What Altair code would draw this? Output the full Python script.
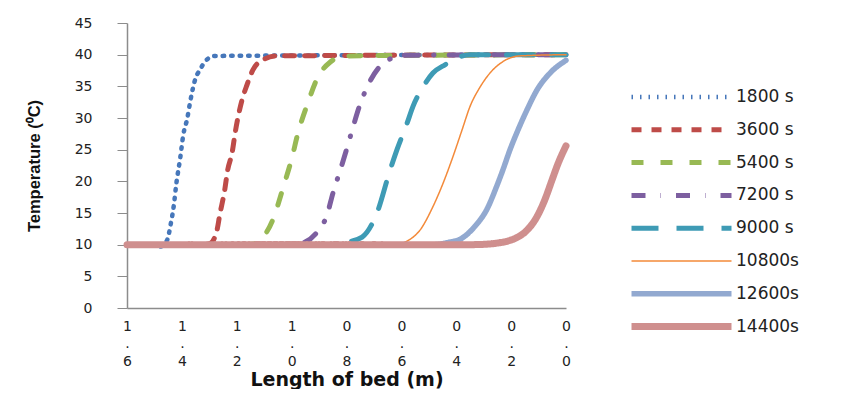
import altair as alt
import pandas as pd

# ---- data ----
series_names = ["1800 s", "3600 s", "5400 s", "7200 s", "9000 s", "10800s", "12600s", "14400s"]

L_1800 = [0.0, 1.28, 1.316, 1.334, 1.35, 1.37, 1.38, 1.395, 1.406, 1.42, 1.43, 1.44, 1.454, 1.48, 1.5, 1.6]
T_1800 = [40, 39.8, 38.9, 37.6, 36.3, 32.5, 30.0, 27.3, 23.7, 19.7, 16.0, 13.4, 10.7, 9.7, 10, 10]

L_3600 = [0.0, 1.053, 1.104, 1.141, 1.163, 1.181, 1.195, 1.206, 1.217, 1.233, 1.244, 1.262, 1.272, 1.297, 1.33, 1.6]
T_3600 = [40, 39.8, 39.2, 37.6, 35.2, 32.8, 30.2, 27.6, 24.5, 21.8, 18.6, 14.7, 12.3, 10.2, 10, 10]

L_5400 = [0.0, 0.805, 0.86, 0.904, 0.944, 0.977, 0.999, 1.031, 1.068, 1.115, 1.141, 1.18, 1.6]
T_5400 = [40, 39.8, 38.8, 36.5, 32.0, 27.6, 23.7, 19.0, 14.0, 10.7, 10.1, 10, 10]

L_7200 = [0.0, 0.60, 0.630, 0.660, 0.718, 0.751, 0.776, 0.798, 0.824, 0.849, 0.871, 0.907, 0.951, 0.99, 1.6]
T_7200 = [40, 39.9, 39.5, 38.9, 35.5, 32.1, 28.6, 25.3, 21.6, 18.2, 14.7, 12.0, 10.4, 10, 10]

L_9000 = [0.0, 0.35, 0.441, 0.485, 0.521, 0.558, 0.579, 0.616, 0.641, 0.689, 0.743, 0.798, 0.84, 1.6]
T_9000 = [40, 40, 38.4, 37.1, 34.9, 31.8, 29.2, 25.0, 21.8, 15.0, 11.2, 10.4, 10, 10]

L_10800 = [0.0, 0.168, 0.23, 0.277, 0.313, 0.35, 0.379, 0.412, 0.448, 0.485, 0.532, 0.57, 0.60, 0.64, 1.6]
T_10800 = [40, 39.8, 38.9, 37.1, 34.9, 31.8, 28.1, 23.9, 19.7, 16.0, 12.3, 10.8, 10.2, 10, 10]

L_12600 = [0.0, 0.058, 0.106, 0.142, 0.175, 0.204, 0.23, 0.251, 0.288, 0.332, 0.38, 0.434, 0.48, 1.6]
T_12600 = [39.1, 37.1, 34.4, 31.3, 28.1, 25.0, 21.8, 19.4, 15.6, 12.9, 11.0, 10.3, 10, 10]

L_14400 = [0.0, 0.029, 0.051, 0.077, 0.106, 0.149, 0.18, 0.21, 0.25, 0.30, 0.35, 1.6]
T_14400 = [25.6, 22.8, 20.2, 17.1, 14.4, 12.0, 11.1, 10.6, 10.25, 10.05, 10, 10]

y_ticks = [0, 5, 10, 15, 20, 25, 30, 35, 40, 45]
x_ticks = [0.0, 0.2, 0.4, 0.6, 0.8, 1.0, 1.2, 1.4, 1.6]

# ---- styles ----
colors = ["#4677BA", "#BE4B48", "#98B954", "#7D5FA0", "#3E9BB5", "#F38A3A", "#92A9D0", "#CF8F8E"]
dashes = [[1.5, 7], [10, 10], [12, 17], [14, 15, 0.5, 15], [27, 18], [1, 0], [1, 0], [1, 0]]
widths = [4.5, 5, 5, 5, 5, 1.5, 5.5, 7]

series_L = [L_1800, L_3600, L_5400, L_7200, L_9000, L_10800, L_12600, L_14400]
series_T = [T_1800, T_3600, T_5400, T_7200, T_9000, T_10800, T_12600, T_14400]

rows = []
for name, Ls, Ts in zip(series_names, series_L, series_T):
    for l, t in zip(Ls, Ts):
        rows.append({"series": name, "L": l, "T": t})
df = pd.DataFrame(rows)

legend = alt.Legend(
    title=None,
    orient="none",
    legendX=501,
    legendY=64,
    padding=0,
    clipHeight=20,
    rowPadding=12.8,
    symbolType="stroke",
    symbolSize=10000,
    symbolOffset=0,
    labelOffset=1,
    labelFont="DejaVu Sans",
    labelFontSize=17,
    labelColor="#222222",
)

chart = alt.Chart(df).mark_line(
    interpolate="monotone", strokeCap="round", strokeJoin="round"
).encode(
    x=alt.X(
        "L:Q",
        scale=alt.Scale(domain=[0, 1.6], reverse=True, nice=False, zero=False),
        axis=alt.Axis(
            values=x_ticks,
            format=".1f",
            labelExpr="split(datum.label, '')",
            labelLineHeight=17.5,
            labelFont="DejaVu Sans",
            labelFontSize=14,
            labelColor="#222222",
            labelPadding=11,
            labelOverlap=False,
            labelFlush=False,
            ticks=False,
            tickSize=0,
            grid=False,
            domainColor="#8C8C8C",
            domainWidth=1.5,
            title="Length of bed (m)",
            titleFont="DejaVu Sans",
            titleFontSize=19,
            titleFontWeight="bold",
            titleColor="#111111",
            titleY=77,
            titleBaseline="alphabetic",
        ),
    ),
    y=alt.Y(
        "T:Q",
        scale=alt.Scale(domain=[0, 45], nice=False),
        axis=alt.Axis(
            values=y_ticks,
            labelFont="DejaVu Sans",
            labelFontSize=14,
            labelColor="#222222",
            labelPadding=25,
            tickSize=10,
            tickColor="#8C8C8C",
            tickWidth=1,
            grid=False,
            domainColor="#8C8C8C",
            domainWidth=1.5,
            title="Temperature (⁰C)",
            titleFont="Liberation Sans Narrow, Arial Narrow, Liberation Sans",
            titleFontSize=16.5,
            titleFontWeight="bold",
            titleColor="#111111",
            titleAngle=-90,
            titleX=-85,
            titleY=142.5,
            titleBaseline="bottom",
        ),
    ),
    color=alt.Color("series:O", sort=series_names,
                    scale=alt.Scale(domain=series_names, range=colors), legend=legend),
    strokeDash=alt.StrokeDash("series:O", sort=series_names,
                              scale=alt.Scale(domain=series_names, range=dashes), legend=legend),
    strokeWidth=alt.StrokeWidth("series:O", sort=series_names,
                                scale=alt.Scale(type="ordinal", domain=series_names, range=widths),
                                legend=legend),
    order=alt.Order("L:Q", sort="descending"),
).properties(
    width=439,
    height=285,
    autosize=alt.AutoSizeParams(type="none"),
    padding={"left": 119, "top": 15, "right": 262, "bottom": 81},
).configure_view(strokeWidth=0)

chart.save("out.html", embed_options={"renderer": "svg", "actions": False})
